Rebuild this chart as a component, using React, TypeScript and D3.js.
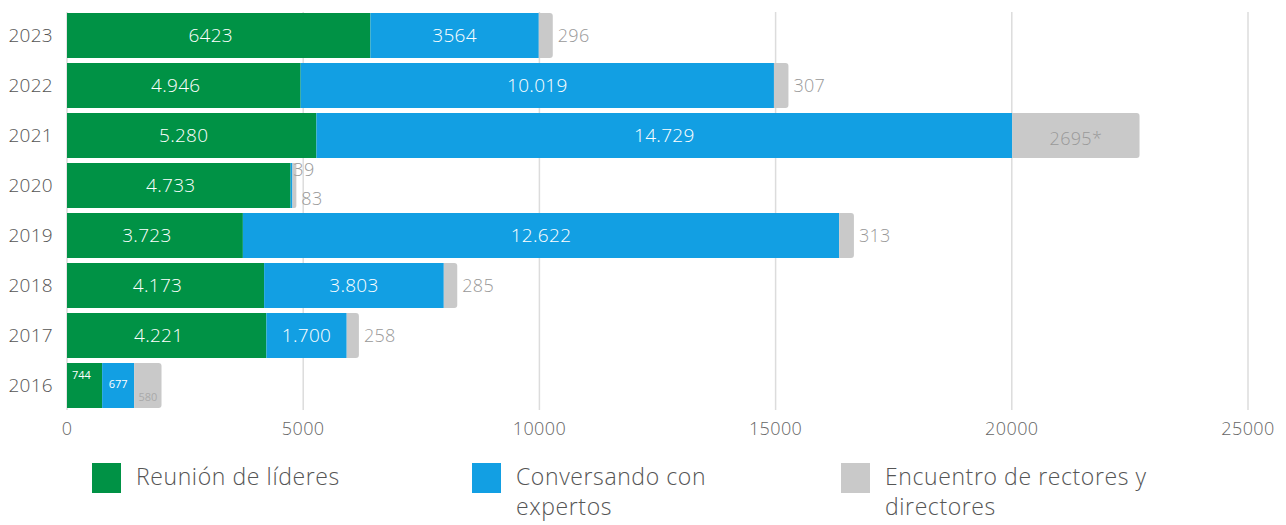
import * as d3 from "d3";

// datos del gráfico
const years = ["2023", "2022", "2021", "2020", "2019", "2018", "2017", "2016"];
const reunionLideres = [6423, 4946, 5280, 4733, 3723, 4173, 4221, 744];
const conversandoExpertos = [3564, 10019, 14729, 39, 12622, 3803, 1700, 677];
const encuentroRectores = [296, 307, 2695, 83, 313, 285, 258, 580];
const xTicks = [0, 5000, 10000, 15000, 20000, 25000];
const seriesNames = ["Reunión de líderes", "Conversando con expertos", "Encuentro de rectores y directores"];
const plainFormatYears = ["2023"];
const footnoteYears = ["2021"];

const colors = ["#009245", "#129FE3", "#C9C9C9"];
const FONT = "'Open Sans', sans-serif";

const width = 1286;
const height = 525;

const x = d3.scaleLinear().domain([0, 25000]).range([67, 1248]);
const y = d3.scaleBand<string>().domain(years).range([10.5, 410.5]).paddingInner(0.1).paddingOuter(0.05);

const dots = d3.formatLocale({ decimal: ",", thousands: ".", grouping: [3], currency: ["", ""] }).format(",d");

function label(v: number, year: string) {
  return plainFormatYears.includes(year) ? String(v) : dots(v);
}
function grayLabel(v: number, year: string) {
  return String(v) + (footnoteYears.includes(year) ? "*" : "");
}

function roundRight(x0: number, x1: number, y0: number, h: number, r: number) {
  const rr = Math.min(r, (x1 - x0) / 2);
  return `M${x0},${y0}H${x1 - rr}Q${x1},${y0} ${x1},${y0 + rr}V${y0 + h - rr}Q${x1},${y0 + h} ${x1 - rr},${y0 + h}H${x0}Z`;
}

const Chart = () => {
  const stackData = years.map((yr, i) => ({
    year: yr,
    a: reunionLideres[i],
    b: conversandoExpertos[i],
    c: encuentroRectores[i],
  }));
  const stack = d3.stack<any>().keys(["a", "b", "c"])(stackData);
  const bw = y.bandwidth();
  const inStyle = { fontSize: 19, fill: "#fff", fontWeight: 300, letterSpacing: 0.3 };
  const outStyle = { fontSize: 18, fill: "#999", fontWeight: 300, letterSpacing: 0.3 };

  return (
    <svg width={width} height={height} style={{ position: "absolute", left: 0, top: 0 }} fontFamily={FONT}>
      {/* grid */}
      {xTicks.map((t) => (
        <line key={t} x1={x(t)} x2={x(t)} y1={12} y2={410} stroke="#dcdcdc" strokeWidth={1.5} />
      ))}
      {xTicks.map((t) => (
        <text key={"t" + t} x={x(t)} y={435} textAnchor="middle" fontSize={18} fill="#666" fontWeight={300} letterSpacing={0.4}>
          {t}
        </text>
      ))}
      {years.map((yr) => (
        <text key={yr} x={53} y={y(yr)! + bw / 2} dy="0.35em" textAnchor="end" fontSize={19} fill="#555" fontWeight={300} letterSpacing={0.3}>
          {yr}
        </text>
      ))}
      {/* bars */}
      {stack.map((layer, li) =>
        layer.map((d, i) => {
          const yr = years[i];
          const y0 = y(yr)!;
          const x0 = x(d[0]);
          const x1 = x(d[1]);
          return li === 2 ? (
            <path key={li + yr} d={roundRight(x0, x1, y0, bw, 3)} fill={colors[li]} />
          ) : (
            <rect key={li + yr} x={x0} y={y0} width={x1 - x0} height={bw} fill={colors[li]} />
          );
        })
      )}
      {/* labels */}
      {stackData.map((d, i) => {
        const yr = d.year;
        const cy = y(yr)! + bw / 2;
        const ga = stack[0][i], gb = stack[1][i], gc = stack[2][i];
        const wa = x(ga[1]) - x(ga[0]);
        const wb = x(gb[1]) - x(gb[0]);
        const wc = x(gc[1]) - x(gc[0]);
        const end = x(gc[1]);
        const out: any[] = [];
        if (wa < 50) {
          // barra pequeña: etiquetas chicas dentro
          out.push(<text key="a" x={x(ga[0]) + 5} y={cy - 10} fontSize={11} fill="#fff" dy="0.35em">{label(d.a, yr)}</text>);
          out.push(<text key="b" x={(x(gb[0]) + x(gb[1])) / 2} y={cy - 1} fontSize={11} fill="#fff" textAnchor="middle" dy="0.35em">{label(d.b, yr)}</text>);
          out.push(<text key="c" x={(x(gc[0]) + x(gc[1])) / 2} y={cy + 12} fontSize={11} fill="#aaa" textAnchor="middle" dy="0.35em">{grayLabel(d.c, yr)}</text>);
          return <g key={yr}>{out}</g>;
        }
        out.push(
          <text key="a" x={(x(ga[0]) + x(ga[1])) / 2 - 8} y={cy} dy="0.35em" textAnchor="middle" {...inStyle}>
            {label(d.a, yr)}
          </text>
        );
        if (wb < 20) {
          out.push(<text key="b" x={end - 3} y={cy - 16} dy="0.35em" {...outStyle}>{label(d.b, yr)}</text>);
          out.push(<text key="c" x={end + 5} y={cy + 13} dy="0.35em" {...outStyle}>{grayLabel(d.c, yr)}</text>);
          return <g key={yr}>{out}</g>;
        }
        out.push(
          <text key="b" x={(x(gb[0]) + x(gb[1])) / 2} y={cy} dy="0.35em" textAnchor="middle" {...inStyle}>
            {label(d.b, yr)}
          </text>
        );
        if (wc > 60) {
          out.push(<text key="c" x={(x(gc[0]) + x(gc[1])) / 2} y={cy + 3} dy="0.35em" textAnchor="middle" {...outStyle}>{grayLabel(d.c, yr)}</text>);
        } else {
          out.push(<text key="c" x={end + 5} y={cy} dy="0.35em" {...outStyle}>{grayLabel(d.c, yr)}</text>);
        }
        return <g key={yr}>{out}</g>;
      })}
      {/* legend */}
      {seriesNames.map((name, i) => {
        const lx = [92, 472, 841][i];
        const lines = i === 0 ? [name] : i === 1 ? ["Conversando con", "expertos"] : ["Encuentro de rectores y", "directores"];
        return (
          <g key={name} transform={`translate(${lx},463)`}>
            <rect width={29} height={30} fill={colors[i]} />
            {lines.map((ln, j) => (
              <text key={j} x={44} y={22 + j * 30} fontSize={23} fill="#555" fontWeight={300} letterSpacing={0.6}>
                {ln}
              </text>
            ))}
          </g>
        );
      })}
    </svg>
  );
};

export default function App() {
  return <Chart />;
}
